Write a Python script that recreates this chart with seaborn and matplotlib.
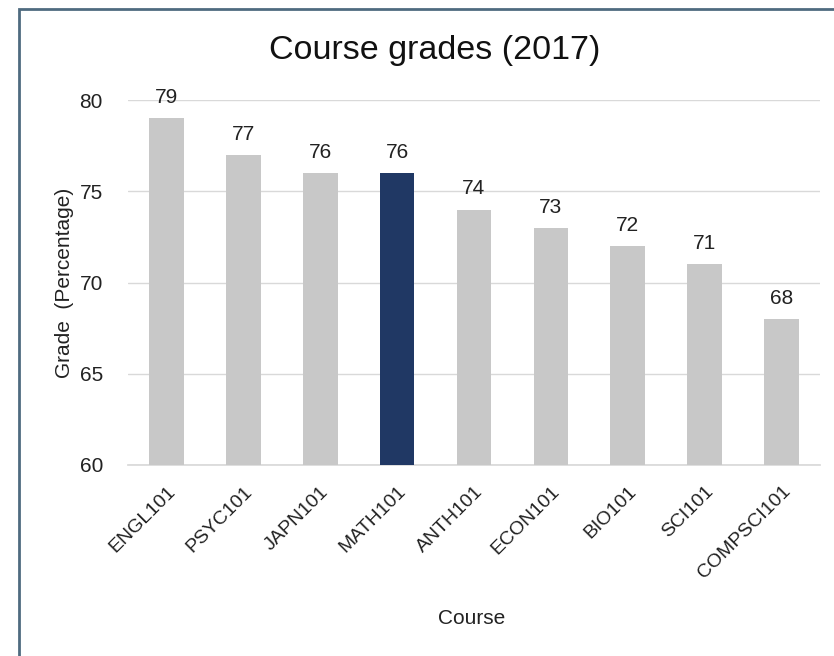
import matplotlib
matplotlib.use("Agg")
import matplotlib.pyplot as plt
import seaborn as sns
import pandas as pd
from matplotlib.patches import Rectangle

courses = ["ENGL101", "PSYC101", "JAPN101", "MATH101", "ANTH101",
           "ECON101", "BIO101", "SCI101", "COMPSCI101"]
grades = [79, 77, 76, 76, 74, 73, 72, 71, 68]
highlight = "MATH101"

sns.set_theme(style="white")
plt.rcParams['font.family'] = ['Liberation Sans', 'DejaVu Sans']

df = pd.DataFrame({"Course": courses, "Grade": grades})
palette = {c: ("#203864" if c == highlight else "#c8c8c8") for c in courses}

W, H = 834, 656
fig = plt.figure(figsize=(W / 100, H / 100), dpi=100)
ax = fig.add_axes([128 / W, 1 - 465 / H, 692 / W, 365 / H])

sns.barplot(data=df, x="Course", y="Grade", hue="Course", palette=palette,
            width=0.45, ax=ax, legend=False, saturation=1, zorder=3,
            linewidth=0)

ax.set_ylim(60, 80)
ax.set_yticks([60, 65, 70, 75, 80])
ax.grid(axis="y", color="#d9d9d9", linewidth=1, zorder=0)
for s in ["top", "right", "left"]:
    ax.spines[s].set_visible(False)
ax.spines["bottom"].set_color("#d9d9d9")
ax.tick_params(axis="both", length=0, colors="#222222")
ax.tick_params(axis="y", labelsize=15, pad=18)
ax.tick_params(axis="x", labelsize=14, pad=13)
plt.setp(ax.get_xticklabels(), rotation=45, ha="right", rotation_mode="anchor")

for cont in ax.containers:
    ax.bar_label(cont, padding=8, fontsize=15, color="#222222")

ax.set_xlabel("")
ax.set_ylabel("")
fig.text(435 / W, 1 - 50 / H, "Course grades (2017)", fontsize=24.5,
         color="#111111", ha="center", va="center")
fig.text(472 / W, 1 - 618 / H, "Course", fontsize=15, color="#222222",
         ha="center", va="center")
fig.text(65 / W, 1 - 283 / H, "Grade  (Percentage)", fontsize=15,
         color="#222222", ha="center", va="center", rotation=90)

fig.patches.append(Rectangle((18.5 / W, -0.1), 1.2, 1 - 8.5 / H + 0.1,
                             transform=fig.transFigure, fill=False,
                             edgecolor="#4f6b80", linewidth=2))

fig.savefig("out.png", dpi=100)
